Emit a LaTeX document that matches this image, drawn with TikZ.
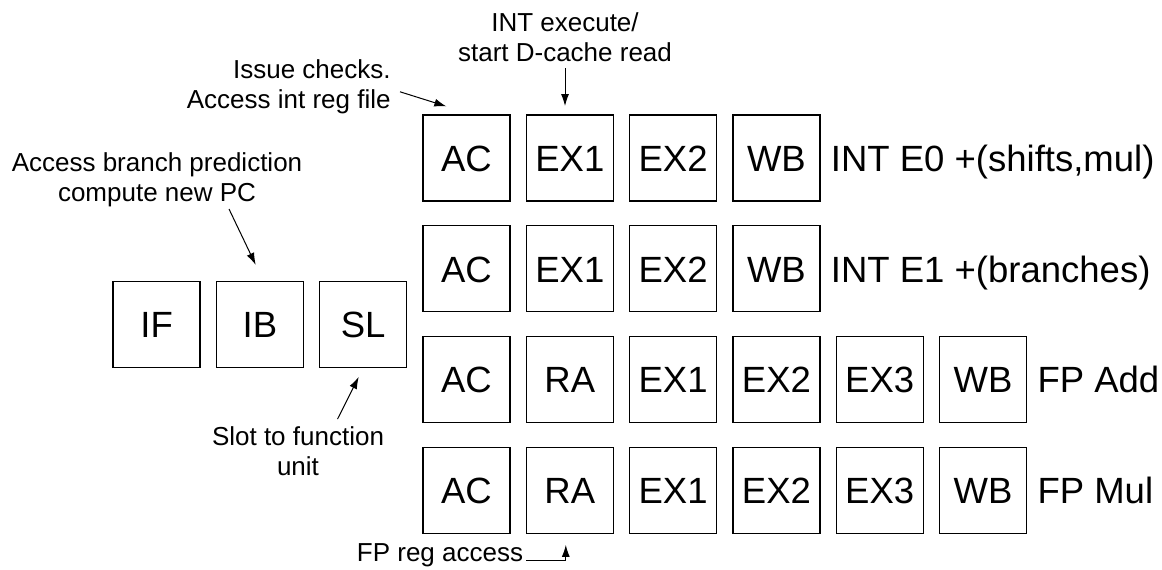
\documentclass[tikz,border=0pt]{standalone}
\usepackage{fontspec}
\setmainfont{Liberation Sans}
\usetikzlibrary{arrows.meta,positioning,calc}

\begin{document}
\begin{tikzpicture}[
        x=0.5pt, y=-0.5pt,
        node distance=11.75pt and 7.5pt,
        stage/.style={
            draw,
            line width=0.65pt,
            minimum width=43.5pt,
            minimum height=43pt,
            inner sep=0pt,
            text height=13.3pt,
            text depth=0pt,
            font=\fontsize{18.25}{22}\selectfont
        },
        unitlabel/.style={
            inner sep=0pt,
            font=\fontsize{18.25}{22}\selectfont
        },
        note/.style={
            inner sep=0pt,
            font=\fontsize{13}{15}\selectfont
        },
        pointer/.style={
            line width=0.5pt,
            -{Latex[length=6pt, width=4pt]}
        }
    ]
        \useasboundingbox (0,0) rectangle (1162,569);

        % integer pipe E0
        \node (r1ac) [stage] at (466.5,158) {AC};
        \node (r1ex1) [stage, right=of r1ac] {EX1};
        \node (r1ex2) [stage, right=of r1ex1] {EX2};
        \node (r1wb) [stage, right=of r1ex2] {WB};
        \node (r1lbl) [unitlabel, right=5pt of r1wb.base east, anchor=base west] {INT E0 +(shifts,mul)};

        % integer pipe E1
        \node (r2ac) [stage, below=of r1ac] {AC};
        \node (r2ex1) [stage, right=of r2ac] {EX1};
        \node (r2ex2) [stage, right=of r2ex1] {EX2};
        \node (r2wb) [stage, right=of r2ex2] {WB};
        \node (r2lbl) [unitlabel, right=5pt of r2wb.base east, anchor=base west] {INT E1 +(branches)};

        % fp add
        \node (r3ac) [stage, below=of r2ac] {AC};
        \node (r3ra) [stage, right=of r3ac] {RA};
        \node (r3ex1) [stage, right=of r3ra] {EX1};
        \node (r3ex2) [stage, right=of r3ex1] {EX2};
        \node (r3ex3) [stage, right=of r3ex2] {EX3};
        \node (r3wb) [stage, right=of r3ex3] {WB};
        \node (r3lbl) [unitlabel, right=5pt of r3wb.base east, anchor=base west] {FP Add};

        % fp mul
        \node (r4ac) [stage, below=of r3ac] {AC};
        \node (r4ra) [stage, right=of r4ac] {RA};
        \node (r4ex1) [stage, right=of r4ra] {EX1};
        \node (r4ex2) [stage, right=of r4ex1] {EX2};
        \node (r4ex3) [stage, right=of r4ex2] {EX3};
        \node (r4wb) [stage, right=of r4ex3] {WB};
        \node (r4lbl) [unitlabel, right=5pt of r4wb.base east, anchor=base west] {FP Mul};

        % front end
        \node (sl) [stage, left=of $(r2ac.west)!0.5!(r3ac.west)$] {SL};
        \node (ib) [stage, left=of sl] {IB};
        \node (if) [stage, left=of ib] {IF};

        % notes
        \node (ntint) [note, align=center, anchor=south] at (565,61.7)
        {
            INT execute/\\
            start D-cache read
        };
        \node (ntac) [note, align=right, anchor=south east] at (391,113.8)
        {
            Issue checks.\\
            Access int reg file
        };
        \node (ntbp) [note, align=center, anchor=south] at (157,207.2)
        {
            Access branch prediction\\
            compute new PC
        };
        \node (ntsl) [note, align=center, anchor=south] at (298,475.7)
        {
            Slot to function\\
            unit
        };
        \node (ntfp) [note, anchor=base east] at (523.5,561.7) {FP reg access};

        \draw[pointer, shorten <=3.3pt, shorten >=4.15pt] (ntint.south) -- (ntint.south |- r1ex1.north);
        \draw[pointer] ([xshift=4.5pt, yshift=-2.75pt]ntac.east) -- ([xshift=12pt, yshift=4pt]r1ac.north west);
        \draw[pointer] ([xshift=36pt, yshift=-0.9pt]ntbp.south) -- ([xshift=-2.1pt, yshift=7.85pt]ib.north);
        \draw[pointer] ([xshift=19.75pt, yshift=3.35pt]ntsl.north) -- ([xshift=-2.25pt, yshift=-4.5pt]sl.south);
        \draw[pointer] ([xshift=1.25pt, yshift=0.85pt]ntfp.base east) -| ([xshift=-2pt, yshift=-5.4pt]r4ra.south);
    \end{tikzpicture}
\end{document}
